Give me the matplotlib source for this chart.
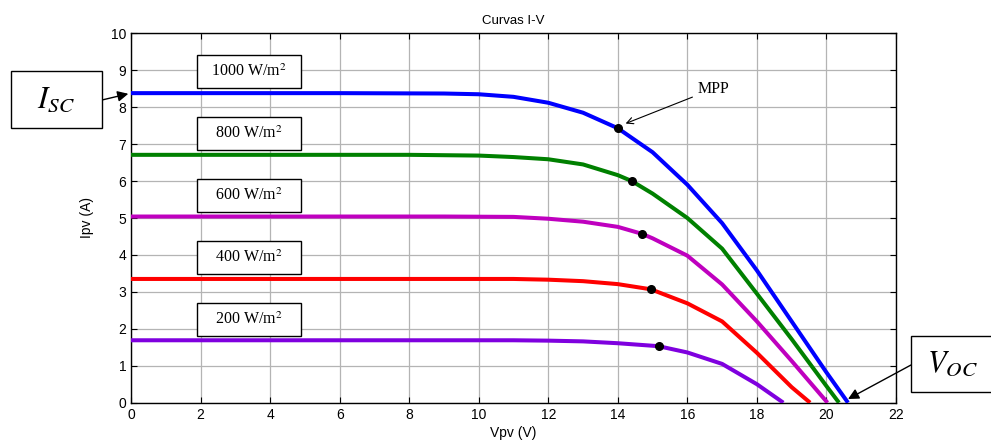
import matplotlib.pyplot as plt
from matplotlib.patches import Rectangle

# Curvas I-V del módulo para distintas irradiancias
irradiancias = ['1000', '800', '600', '400', '200']
colores = ['#0000FF', '#008000', '#BF00BF', '#FF0000', '#7F00DF']

v_1000 = [0, 6, 9, 10, 11, 12, 13, 14, 15, 16, 17, 18, 19, 20, 20.62]
i_1000 = [8.38, 8.38, 8.37, 8.35, 8.28, 8.12, 7.85, 7.43, 6.78, 5.90, 4.86, 3.58, 2.20, 0.82, 0]

v_800 = [0, 8, 10, 11, 12, 13, 14, 14.4, 15, 16, 17, 18, 19, 20, 20.36]
i_800 = [6.71, 6.71, 6.69, 6.65, 6.59, 6.45, 6.16, 6.00, 5.66, 5.00, 4.17, 2.95, 1.72, 0.45, 0]

v_600 = [0, 9, 11, 12, 13, 14, 14.7, 15, 16, 17, 18, 19, 20.03]
i_600 = [5.04, 5.04, 5.03, 4.98, 4.90, 4.76, 4.57, 4.45, 3.98, 3.20, 2.20, 1.13, 0]

v_400 = [0, 9, 11, 12, 13, 14, 14.95, 16, 17, 18, 19, 19.53]
i_400 = [3.35, 3.35, 3.35, 3.33, 3.29, 3.21, 3.07, 2.69, 2.20, 1.35, 0.42, 0]

v_200 = [0, 9, 11, 12, 13, 14, 15.17, 16, 17, 18, 18.76]
i_200 = [1.69, 1.69, 1.69, 1.68, 1.66, 1.61, 1.53, 1.36, 1.05, 0.50, 0]

curvas_v = [v_1000, v_800, v_600, v_400, v_200]
curvas_i = [i_1000, i_800, i_600, i_400, i_200]

# puntos de máxima potencia
v_mpp = [14.0, 14.4, 14.7, 14.95, 15.17]
i_mpp = [7.43, 6.00, 4.57, 3.07, 1.53]

plt.rcParams['font.family'] = ['Liberation Sans', 'DejaVu Sans']

W, H = 991, 441
fig = plt.figure(figsize=(W / 100, H / 100), dpi=100)
ax = fig.add_axes([131 / W, 1 - 402.7 / H, 765 / W, 369.4 / H])

for v, i, c in zip(curvas_v, curvas_i, colores):
    ax.plot(v, i, color=c, linewidth=2.9, solid_capstyle='butt', solid_joinstyle='round', zorder=3)

ax.plot(v_mpp, i_mpp, 'o', color='black', markersize=5.5, zorder=4)

ax.set_xlim(0, 22)
ax.set_ylim(0, 10)
ax.set_xticks(range(0, 23, 2))
ax.set_yticks(range(0, 11))
ax.grid(True, color='#b4b4b4', linewidth=0.9, linestyle='-')
ax.set_axisbelow(True)
ax.tick_params(direction='in', top=True, right=True, length=4, labelsize=10)
for s in ax.spines.values():
    s.set_linewidth(1.0)

ax.set_title('Curvas I-V', fontsize=9.5, pad=7)
ax.set_xlabel('Vpv (V)', fontsize=10, labelpad=3)
ax.set_ylabel('Ipv (A)', fontsize=10, labelpad=12)


def px(x, y):
    # pixeles desde arriba a coordenadas de figura
    return x / W, 1 - y / H


# cajas de irradiancia
for k, g in enumerate(irradiancias):
    top = 55 + 62 * k
    x0, y0 = px(197, top + 33)
    fig.patches.append(Rectangle((x0, y0), 104 / W, 33 / H, transform=fig.transFigure,
                                 facecolor='white', edgecolor='black', linewidth=1.0, zorder=5))
    tx, ty = px(249, top + 17)
    fig.text(tx, ty, g + ' W/m$^2$', ha='center', va='center', fontsize=11.5,
             family='Liberation Serif', math_fontfamily='stix', zorder=6)

# Isc
x0, y0 = px(11, 128)
fig.patches.append(Rectangle((x0, y0), 91 / W, 57 / H, transform=fig.transFigure,
                             facecolor='white', edgecolor='black', linewidth=1.0))
fig.text(*px(56, 100), '$I_{SC}$', ha='center', va='center', fontsize=22, math_fontfamily='stix')
ax.annotate('', xy=(0, 8.38), xycoords='data', xytext=px(102, 100), textcoords='figure fraction',
            arrowprops=dict(arrowstyle='-|>', color='black', lw=1.0, mutation_scale=16,
                            shrinkA=0, shrinkB=2), annotation_clip=False)

# Voc
x0, y0 = px(911, 392)
fig.patches.append(Rectangle((x0, y0), 90 / W, 56 / H, transform=fig.transFigure,
                             facecolor='white', edgecolor='black', linewidth=1.0))
fig.text(*px(952, 364), '$V_{OC}$', ha='center', va='center', fontsize=22, math_fontfamily='stix')
ax.annotate('', xy=(v_1000[-1], 0.1), xycoords='data', xytext=px(911, 365), textcoords='figure fraction',
            arrowprops=dict(arrowstyle='-|>', color='black', lw=1.0, mutation_scale=16,
                            shrinkA=0, shrinkB=0), annotation_clip=False)

# MPP
ax.annotate('MPP', xy=(v_mpp[0] + 0.15, i_mpp[0] + 0.1), xytext=(16.3, 8.5),
            fontsize=11.5, family='Liberation Serif', va='center', ha='left',
            arrowprops=dict(arrowstyle='->', color='black', lw=0.8, shrinkA=2, shrinkB=2))

fig.savefig('out.png', dpi=100)
